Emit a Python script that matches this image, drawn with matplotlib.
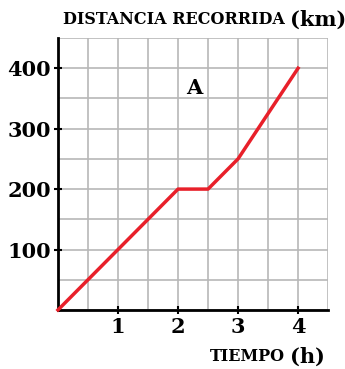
import matplotlib.pyplot as plt
import numpy as np

# tiempo (h) y distancia (km)
tiempo = [0, 1, 2, 2.5, 3, 3.5, 4]
distancia = [0, 100, 200, 200, 250, 325, 400]
xticks = [1, 2, 3, 4]
yticks = [100, 200, 300, 400]

plt.rcParams['font.family'] = ['DejaVu Serif']
plt.rcParams['font.weight'] = 'bold'

fig = plt.figure(figsize=(3.45, 3.69), dpi=100)
ax = fig.add_axes([0.168, 0.160, 0.783, 0.737])

ax.set_xlim(0, 4.5)
ax.set_ylim(0, 450)
ax.set_xticks(np.arange(0, 4.51, 0.5), minor=True)
ax.set_yticks(np.arange(0, 451, 50), minor=True)
ax.grid(True, which='both', color='#b8b8b8', linewidth=1.2)
ax.set_axisbelow(True)

ax.plot(tiempo, distancia, color='#e8202a', linewidth=2.5, clip_on=False, zorder=3)

ax.set_xticks(xticks)
ax.set_yticks(yticks)
ax.tick_params(which='major', direction='inout', length=6, width=1.5, labelsize=15, pad=2)
ax.tick_params(which='minor', length=0)
for s in ['top', 'right']:
    ax.spines[s].set_visible(False)
for s in ['left', 'bottom']:
    ax.spines[s].set_linewidth(2)

ax.text(2.27, 368, 'A', fontsize=15, fontweight='bold', ha='center', va='center')

fig.text(0.826, 0.946, 'DISTANCIA RECORRIDA', fontsize=11.5, fontweight='bold', ha='right', va='center')
fig.text(0.84, 0.946, '(km)', fontsize=15, fontweight='bold', ha='left', va='center')
fig.text(0.826, 0.033, 'TIEMPO', fontsize=11.5, fontweight='bold', ha='right', va='center')
fig.text(0.84, 0.033, '(h)', fontsize=15, fontweight='bold', ha='left', va='center')

fig.savefig('out.png', dpi=100)
